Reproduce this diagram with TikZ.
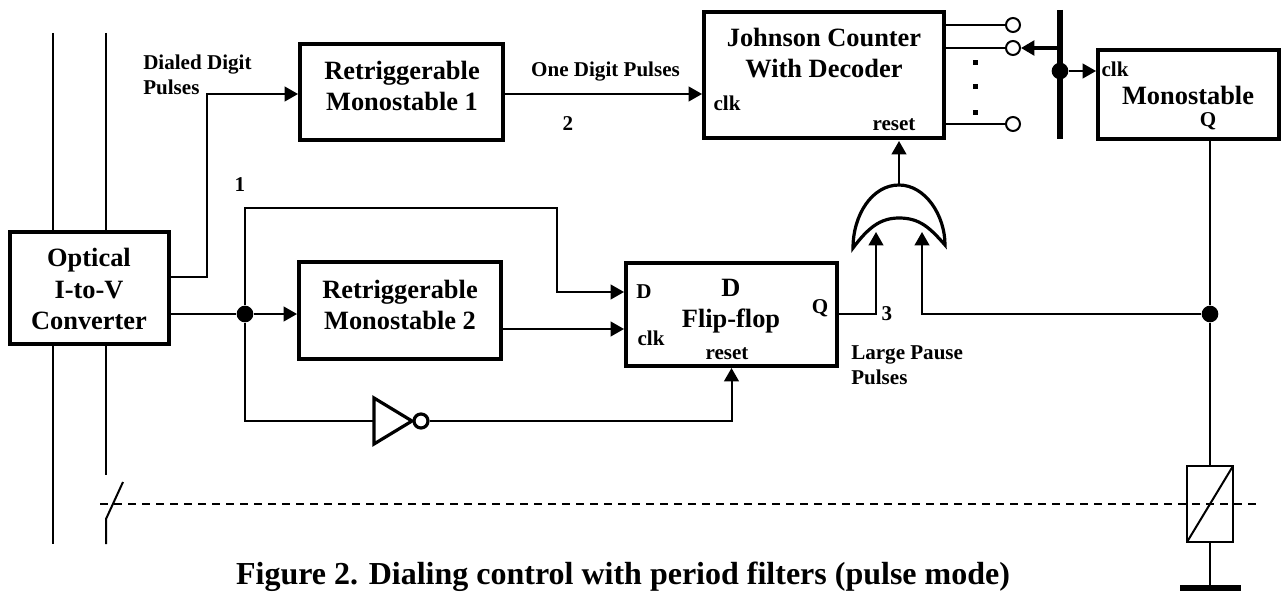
\documentclass[tikz,border=0pt]{standalone}
\usepackage{fontspec}
\setmainfont{Liberation Serif}
\usepackage{tikz}
\usetikzlibrary{positioning, arrows.meta}
\tikzset{
	block/.style={
		draw=black,
		line width=3pt,
		inner sep=0pt
	},
	title/.style={
		inner sep=0pt,
		align=center,
		font=\fontsize{19.8}{23.4}\selectfont\bfseries
	},
	pin/.style={
		inner sep=0pt,
		align=left,
		font=\fontsize{15.8}{18.4}\selectfont\bfseries
	},
	wire/.style={
		draw=black,
		line width=1.5pt
	},
	flow/.style={
		wire,
		-{Triangle[length=10pt,width=11pt]}
	},
	junction/.style={
		circle,
		fill=black,
		inner sep=0pt,
		minimum size=12.5pt
	},
	contact/.style={
		circle,
		draw=black,
		fill=white,
		line width=1.5pt,
		inner sep=0pt,
		minimum size=10.5pt
	},
	gate/.style={
		line width=2.4pt,
		line join=miter
	},
}

\begin{document}
\begin{tikzpicture}[x=0.75pt,y=-0.75pt]
	\useasboundingbox (0,0) rectangle (1281,592);

	% line wires
	\coordinate (lineAtop) at (53,33);
	\coordinate (lineAbot) at (53,544);
	\coordinate (lineBtop) at (106,33);
	\coordinate (lineBend) at (106,475);
	\coordinate (switchBot) at (106,544);
	\coordinate (switchHinge) at (106,519);
	\coordinate (switchTip) at (123,482);
	\draw [wire] (lineAtop) -- (lineAbot);
	\draw [wire] (lineBtop) -- (lineBend);
	\draw [wire] (switchBot) -- (switchHinge) -- (switchTip);

	% blocks
	\node [block, fill=white, minimum width=159pt*0.75, minimum height=112pt*0.75] at (89.5,288) (optical) {};
	\node [block, minimum width=203pt*0.75, minimum height=96pt*0.75] at (401.5,92) (retrigOne) {};
	\node [block, minimum width=202pt*0.75, minimum height=97pt*0.75] at (400,310.5) (retrigTwo) {};
	\node [block, minimum width=211pt*0.75, minimum height=103pt*0.75] at (731.5,314.5) (flipflop) {};
	\node [block, minimum width=240pt*0.75, minimum height=126pt*0.75] at (824,75) (johnson) {};
	\node [block, minimum width=181pt*0.75, minimum height=89pt*0.75] at (1188.5,94.5) (mono) {};

	% block texts
	\node [title] at (89,289) (opticalText) {Optical\\I-to-V\\Converter};
	\node [title] at (402,86) (retrigOneText) {Retriggerable\\Monostable 1};
	\node [title] at (400,305) (retrigTwoText) {Retriggerable\\Monostable 2};
	\node [title] at (824,53) (johnsonText) {Johnson Counter\\With Decoder};
	\node [title] at (731,306) (flipflopText) {D\\Flip-flop};
	\node [title] at (1188,95) (monoText) {Monostable};

	% pin texts
	\node [pin] at (727,103) (johnsonClk) {clk};
	\node [pin] at (894,125) (johnsonReset) {reset};
	\node [pin] at (644,292) (flipflopD) {D};
	\node [pin] at (651,338) (flipflopClk) {clk};
	\node [pin] at (727,354) (flipflopReset) {reset};
	\node [pin] at (820,308) (flipflopQ) {Q};
	\node [pin] at (1115,69) (monoClk) {clk};
	\node [pin] at (1208,121) (monoQ) {Q};

	% signal texts
	\node [pin, anchor=west] at (143,75) (dialedText) {Dialed Digit\\Pulses};
	\node [pin] at (605.5,72) (oneDigitText) {One Digit Pulses};
	\node [pin, anchor=west] at (851,365) (pauseText) {Large Pause\\Pulses};
	\node [pin] at (568,124) (markTwo) {2};
	\node [pin] at (240,185) (markOne) {1};
	\node [pin] at (887,314) (markThree) {3};
	\node [title, anchor=base, font=\fontsize{24}{28}\selectfont\bfseries] at (623,584) (caption) {Figure 2. Dialing control with period filters (pulse mode)};

	% junctions
	\node [junction] at (245,314) (inputDot) {};
	\node [junction] at (1210,314) (monoDot) {};
	\node [junction] at (1060,71) (busDot) {};

	% outputs of the optical converter
	\coordinate (opticalUp) at (171,277);
	\coordinate (opticalDown) at (171,314);
	\coordinate (retrigOneIn) at (298,94);
	\coordinate (retrigTwoIn) at (297,314);
	\draw [flow] (opticalUp) -- (207,277) |- (retrigOneIn);
	\draw [wire] (opticalDown) -- (inputDot);
	\draw [flow] (inputDot) -- (retrigTwoIn);

	% into the counter
	\coordinate (retrigOneOut) at (505,94);
	\coordinate (johnsonIn) at (702,94);
	\draw [flow] (retrigOneOut) -- (johnsonIn);

	% into the flip-flop
	\coordinate (flipflopDIn) at (624,292);
	\coordinate (retrigTwoOut) at (503,329);
	\coordinate (flipflopClkIn) at (624,329);
	\draw [flow] (inputDot) |- (557,208) |- (flipflopDIn);
	\draw [flow] (retrigTwoOut) -- (flipflopClkIn);

	% inverter
	\coordinate (invIn) at (374,421);
	\coordinate (invTip) at (412,421);
	\node [contact, line width=2.4pt] at (421,421) (invBubble) {};
	\draw [gate] (374,398) -- (invTip) -- (374,444) -- cycle;
	\draw [wire] (inputDot) |- (invIn);
	\draw [flow] (invBubble) -| (flipflop.south);

	% or gate
	\coordinate (orLeft) at (853,248);
	\coordinate (orRight) at (945,245);
	\coordinate (orTop) at (899,185);
	\coordinate (orInner) at (899,218);
	\coordinate (orInA) at (876,232);
	\coordinate (orInB) at (922,232);
	\draw [gate] (orLeft) .. controls (853,215) and (872,185) .. (orTop) .. controls (925,185) and (945,215) .. (orRight) .. controls (930,228) and (920,218) .. (orInner) .. controls (880,218) and (868,228) .. cycle;
	\coordinate (flipflopOut) at (839,314);
	\draw [flow] (flipflopOut) -| (orInA);
	\draw [flow] (monoDot) -| (orInB);
	\coordinate (johnsonResetIn) at (899,141);
	\draw [flow] (orTop) -- (johnsonResetIn);

	% counter outputs
	\node [contact] at (1013,25) (contactA) {};
	\node [contact] at (1013,48) (contactB) {};
	\node [contact] at (1013,124) (contactC) {};
	\coordinate (johnsonOutA) at (946,25);
	\coordinate (johnsonOutB) at (946,48);
	\coordinate (johnsonOutC) at (946,124);
	\draw [wire] (johnsonOutA) -- (contactA);
	\draw [wire] (johnsonOutB) -- (contactB);
	\draw [wire] (johnsonOutC) -- (contactC);
	\foreach \y in {63,87,112} {
		\fill (972.5,\y-2.5) rectangle (977.5,\y+2.5);
	}

	% bus
	\coordinate (busTop) at (1060,10);
	\coordinate (busBot) at (1060,139);
	\coordinate (busTap) at (1060,48);
	\draw [line width=4.5pt] (busTop) -- (busBot);
	\draw [line width=3pt, -{Triangle[length=10pt,width=11pt]}] (busTap) -- (contactB);
	\draw [flow] (busDot) -- (1096,71);

	% relay
	\coordinate (relayTL) at (1187,466);
	\coordinate (relayBR) at (1233,542);
	\coordinate (relayTop) at (1210,466);
	\coordinate (relayBot) at (1210,542);
	\coordinate (monoOut) at (1210,141);
	\coordinate (earth) at (1210,588);
	\draw [wire] (monoOut) -- (monoDot);
	\draw [wire] (monoDot) -- (relayTop);
	\draw [wire] (relayBot) -- (earth);
	\draw [line width=1.5pt] (relayTL) rectangle (relayBR);
	\draw [line width=1.5pt] (1187,542) -- (1233,466);
	\draw [line width=4pt] (1180,588) -- (1241,588);

	% coupling
	\coordinate (couplingL) at (100,504);
	\coordinate (couplingR) at (1256,504);
	\draw [wire, dash pattern=on 6.2pt off 4.3pt] (couplingL) -- (couplingR);
\end{tikzpicture}
\end{document}
